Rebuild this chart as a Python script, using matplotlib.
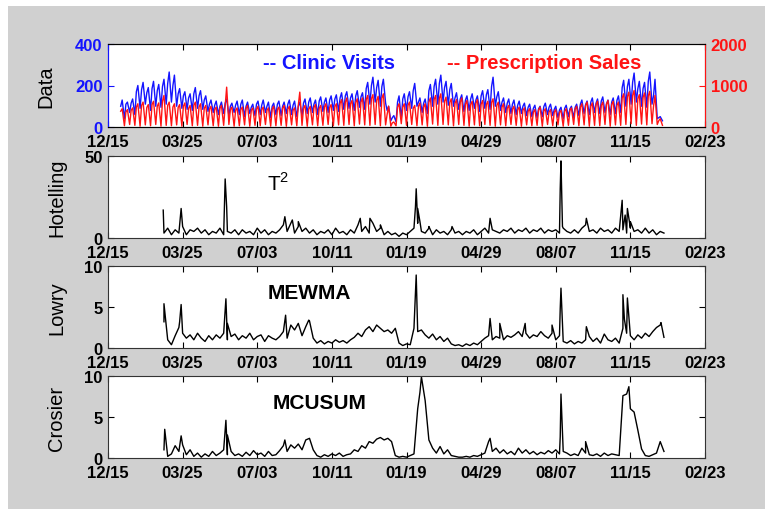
import numpy as np
import matplotlib
matplotlib.use("Agg")
import matplotlib.pyplot as plt
from matplotlib.patches import Rectangle

plt.rcParams['font.family'] = ['Liberation Sans', 'DejaVu Sans']

# x axis: days since 12/15, ticks every 100 days
tick_days = [0, 100, 200, 300, 400, 500, 600, 700, 800]
tick_labels = ['12/15', '03/25', '07/03', '10/11', '01/19', '04/29', '08/07', '11/15', '02/23']

# top panel: per week an early-week, a mid-week peak and a weekend low (first week starts day 16)
first_day = 16
visits_hi = [130, 120, 135,
             200, 215, 190, 220, 205,
             230, 265, 250, 185, 170, 160, 190, 175, 150,
             130, 125, 120, 135, 115, 125, 130, 120, 110, 125, 130, 120, 115, 125, 120, 130, 125, 120,
             135, 140, 130, 145, 140, 150, 155,
             165, 170, 160, 175, 165,
             215, 240, 225, 230,
             100, 55, 150,
             160, 170, 210, 140, 135,
             205, 230, 250, 220, 210,
             165, 155, 150, 160, 150,
             175, 180, 240, 170,
             140, 135, 130, 125,
             115, 110, 105, 100, 115, 110,
             100, 95, 105, 100, 110,
             130, 125, 140, 135, 145, 130, 140, 150,
             225, 230, 260, 220,
             215, 265, 230,
             50]
visits_mid = [100, 110, 115,
              170, 180, 165, 185, 175,
              195, 210, 200, 160, 150, 140, 160, 150, 130,
              110, 105, 100, 115, 100, 105, 110, 100, 95, 110, 105, 100, 100, 110, 100, 110, 105, 100,
              115, 120, 110, 125, 120, 130, 135,
              140, 150, 140, 150, 145,
              185, 200, 190, 195,
              80, 45, 120,
              135, 145, 175, 120, 115,
              175, 195, 210, 190, 180,
              140, 135, 130, 135, 130,
              150, 155, 195, 145,
              120, 115, 110, 105,
              100, 95, 90, 88, 98, 95,
              85, 82, 90, 88, 95,
              110, 108, 120, 115, 125, 112, 120, 128,
              190, 195, 215, 185,
              185, 220, 150,
              45]
visits_lo = [40, 70, 60,
             90, 110, 80, 100, 95,
             110, 120, 100, 90, 85, 80, 90, 85, 75,
             70, 60, 65, 55, 70, 60, 50, 65, 55, 60, 70, 45, 60, 55, 65, 60, 50, 55,
             65, 70, 60, 75, 70, 80, 75,
             85, 90, 80, 95, 85,
             110, 120, 100, 115,
             30, 25, 40,
             80, 90, 100, 70, 65,
             100, 110, 120, 105, 100,
             85, 75, 80, 90, 75,
             90, 85, 100, 80,
             70, 65, 60, 65,
             55, 50, 45, 50, 60, 55,
             45, 40, 50, 45, 55,
             65, 60, 70, 65, 70, 60, 65, 70,
             100, 110, 120, 100,
             95, 110, 40,
             30]
sales_hi = [440, 420, 460,
            560, 600, 540, 620, 580,
            760, 600, 560, 540, 580, 520, 600, 560, 520,
            500, 480, 520, 960, 480, 460, 480, 520, 460, 500, 480, 460, 500, 480, 520, 500, 460, 840,
            520, 500, 540, 520, 560, 540, 560,
            660, 700, 640, 680, 700,
            760, 780, 740, 800,
            500, 120, 560,
            560, 600, 520, 580, 560,
            700, 760, 800, 720, 680,
            660, 700, 640, 620, 660,
            640, 620, 680, 600,
            560, 520, 500, 480,
            460, 440, 420, 480, 440, 420,
            420, 400, 440, 460, 500,
            560, 600, 580, 620, 600, 640, 620, 600,
            800, 840, 880, 780,
            820, 860, 760,
            200]
sales_mid = [380, 360, 400,
             480, 520, 470, 540, 500,
             620, 520, 480, 470, 500, 450, 520, 480, 450,
             430, 420, 450, 500, 420, 400, 420, 450, 400, 430, 420, 400, 430, 420, 450, 430, 400, 520,
             450, 430, 470, 450, 480, 470, 490,
             570, 600, 560, 590, 600,
             660, 680, 640, 690,
             300, 100, 480,
             480, 520, 450, 500, 480,
             600, 660, 690, 620, 590,
             570, 600, 550, 540, 570,
             550, 540, 590, 520,
             480, 450, 430, 420,
             400, 380, 360, 410, 380, 360,
             360, 350, 380, 400, 430,
             480, 520, 500, 540, 520, 550, 540, 520,
             700, 730, 760, 680,
             710, 750, 500,
             150]
sales_lo = [30, 60, 40, 20, 50, 30, 60, 20, 40, 30, 50, 20, 60, 30, 40, 20, 50,
            30, 20, 40, 60, 20, 30, 50, 20, 40, 30, 60, 20, 30, 40, 20, 50, 30, 40,
            20, 50, 30, 40, 60, 30, 50, 40, 60, 30, 70, 50, 40, 60, 30, 50, 20, 30, 80,
            40, 60, 30, 50, 20, 70, 40, 60, 50, 30, 60, 40, 20, 50, 30, 60, 40, 20, 50,
            30, 60, 40, 20, 50, 30, 40, 20, 60, 30, 50, 20, 40, 60, 30, 50, 20, 40, 30, 60, 20, 50, 40,
            60, 80, 40, 70, 50, 80, 60, 40]

# statistics, sampled every 5 days from day 75, plus single-day spikes
stat_days = np.arange(75, 746, 5)
hotelling_base = [3, 6, 2, 5, 3, 7, 2, 5, 4, 6,
                  3, 5, 2, 4, 3, 6, 2, 4, 3, 5,
                  2, 5, 3, 4, 2, 6, 3, 5, 2, 4,
                  3, 5, 8, 4, 9, 3, 7, 4, 6, 3,
                  5, 2, 4, 3, 5, 2, 6, 3, 4, 2,
                  5, 3, 8, 4, 7, 3, 9, 4, 6, 2,
                  4, 2, 3, 1, 3, 2, 4, 6, 9, 4,
                  3, 6, 2, 5, 3, 4, 2, 5, 3, 4,
                  2, 4, 3, 5, 2, 4, 6, 3, 5, 4,
                  3, 5, 4, 6, 3, 5, 4, 6, 3, 5,
                  4, 6, 3, 5, 4, 5, 3, 6, 4, 3,
                  5, 3, 6, 8, 4, 5, 3, 6, 4, 5,
                  3, 6, 4, 5, 3, 6, 4, 5, 3, 6,
                  3, 5, 2, 4, 3]
hotelling_spikes = [(74, 17), (98, 18), (157, 36), (159, 19), (237, 13), (247, 11), (255, 10),
                    (338, 12), (351, 12), (365, 8), (412, 19), (413, 30), (415, 18), (418, 10),
                    (430, 7), (461, 7), (512, 12), (606, 30), (607, 47), (609, 7), (641, 12),
                    (689, 23), (693, 14), (696, 18), (700, 10)]

lowry_base = [3.2, 1.0, 0.4, 1.5, 2.5, 1.8, 1.2, 1.6, 1.0, 1.8,
              1.2, 0.8, 1.5, 1.0, 1.6, 1.2, 1.8, 1.0, 1.4, 1.7,
              1.0, 1.5, 1.2, 1.8, 1.0, 1.4, 1.6, 0.8, 1.5, 1.2,
              1.0, 1.4, 2.0, 1.2, 2.8, 2.2, 3.0, 1.5, 2.6, 3.3,
              1.2, 0.6, 0.9, 0.5, 0.8, 0.6, 1.0, 0.7, 0.9, 0.6,
              1.0, 1.3, 1.8, 1.4, 2.2, 2.6, 2.0, 2.8, 2.4, 2.0,
              2.2, 1.8, 2.4, 0.6, 0.3, 0.5, 0.4, 2.4, 2.0, 2.2,
              1.6, 1.2, 1.7, 1.0, 1.4, 0.8, 1.2, 0.5, 0.3, 0.4,
              0.2, 0.5, 0.3, 0.6, 0.4, 0.8, 1.2, 1.5, 1.0, 1.4,
              1.2, 1.0, 1.5, 1.3, 1.6, 2.0, 1.4, 1.8, 1.2, 1.6,
              1.4, 2.0, 1.5, 1.2, 1.8, 1.0, 1.5, 0.8, 0.6, 0.9,
              0.5, 0.8, 0.6, 1.0, 1.4, 0.8, 1.2, 0.6, 1.7, 1.0,
              0.8, 1.2, 0.6, 2.4, 1.8, 1.5, 1.0, 1.6, 1.2, 1.8,
              1.4, 2.0, 2.5, 2.8, 1.3]
lowry_spikes = [(75, 5.4), (96, 3.2), (98, 5.3), (158, 6.0), (160, 3.0), (238, 4.0), (269, 3.4),
                (413, 8.9), (414, 5.2), (512, 3.6), (525, 3.0), (559, 3.0), (595, 2.8),
                (606, 4.8), (607, 7.3), (641, 2.6), (690, 6.5), (692, 3.5), (696, 6.1),
                (698, 3.8), (741, 3.1)]

crosier_base = [1.0, 0.2, 0.5, 1.5, 0.8, 1.6, 0.4, 1.0, 0.2, 0.6,
                0.1, 0.5, 0.2, 0.8, 0.3, 0.6, 1.0, 0.4, 0.8, 0.3,
                0.5, 0.2, 0.7, 0.3, 0.9, 0.4, 0.6, 0.2, 0.8, 0.3,
                0.4, 0.9, 1.5, 0.8, 1.6, 1.2, 1.7, 1.0, 2.2, 2.4,
                1.0, 0.3, 0.1, 0.4, 0.2, 0.5, 0.3, 0.6, 0.2, 0.4,
                0.5, 1.0, 0.8, 1.5, 1.2, 2.0, 1.8, 2.3, 2.5, 2.2,
                2.4, 2.0, 0.3, 0.1, 0.2, 0.1, 0.3, 0.5, 6.0, 9.9,
                7.0, 2.2, 1.2, 0.6, 1.4, 0.5, 1.0, 0.3, 0.2, 0.1,
                0.1, 0.2, 0.1, 0.3, 0.2, 0.4, 0.6, 2.0, 0.8, 1.2,
                0.6, 1.0, 0.5, 0.8, 0.4, 1.2, 0.6, 1.0, 0.5, 0.8,
                0.4, 0.7, 0.5, 0.9, 0.6, 1.0, 0.5, 0.8, 0.6, 0.3,
                0.5, 0.3, 1.2, 0.6, 0.4, 0.3, 0.5, 0.2, 0.6, 0.3,
                0.5, 0.4, 0.3, 7.6, 7.8, 6.0, 5.6, 3.4, 1.1, 0.3,
                0.2, 0.4, 0.6, 2.0, 0.8]
crosier_spikes = [(76, 3.5), (98, 2.7), (158, 4.6), (160, 2.8), (237, 2.2), (418, 8.0),
                  (512, 2.4), (606, 2.6), (607, 7.8), (640, 2.0), (698, 8.7), (740, 2.0)]


def weekly(mid, hi, lo):
    wk = first_day + 7 * np.arange(len(hi))
    x = np.ravel(np.column_stack([wk + 1, wk + 3, wk + 6]))
    y = np.ravel(np.column_stack([mid, hi, lo]))
    return x, y


def merge(base, spikes):
    d = np.concatenate([stat_days, [s[0] for s in spikes]])
    v = np.concatenate([base, [s[1] for s in spikes]])
    order = np.argsort(d, kind='stable')
    return d[order], v[order]


blue = '#1414ff'
red = '#ff1414'
tick_font = dict(fontsize=12, fontweight='bold')

fig = plt.figure(figsize=(7.65, 5.1), dpi=100)
fig.patches.append(Rectangle((8 / 765, 0), 1, 503 / 510, transform=fig.transFigure,
                             facecolor='#d0d0d0', edgecolor='none', zorder=-10))

left, width = 108 / 765, 597 / 765
ax1 = fig.add_axes([left, 382 / 510, width, 83 / 510])
ax2 = fig.add_axes([left, 271 / 510, width, 82 / 510])
ax3 = fig.add_axes([left, 161 / 510, width, 82 / 510])
ax4 = fig.add_axes([left, 51 / 510, width, 82 / 510])

# top: clinic visits and prescription sales
axr = ax1.twinx()
xv, yv = weekly(visits_mid, visits_hi, visits_lo)
xs, ys = weekly(sales_mid, sales_hi, sales_lo)
ax1.plot(xv, yv, color=blue, lw=1.0)
axr.plot(xs, ys, color=red, lw=1.0)
ax1.set_ylim(0, 400)
ax1.set_yticks([0, 200, 400])
axr.set_ylim(0, 2000)
axr.set_yticks([0, 1000, 2000])
ax1.tick_params(axis='y', colors=blue, direction='in', length=4, pad=4, right=False)
axr.tick_params(axis='y', colors=red, direction='in', length=4, pad=4)
ax1.spines['left'].set_color(blue)
axr.spines['left'].set_color(blue)
axr.spines['right'].set_color(red)
for lab in ax1.get_yticklabels() + axr.get_yticklabels():
    lab.set_fontweight('bold')
    lab.set_fontsize(12)
ax1.set_ylabel('Data', fontsize=14.5)
ax1.yaxis.set_label_coords(-0.088, 0.5)
ax1.text(0.26, 0.78, '-- Clinic Visits', color=blue, fontsize=14.5, fontweight='bold',
         transform=ax1.transAxes, va='center')
ax1.text(0.568, 0.78, '-- Prescription Sales', color=red, fontsize=14.5, fontweight='bold',
         transform=ax1.transAxes, va='center')

panels = [
    (ax2, merge(hotelling_base, hotelling_spikes), 50, [0, 50], 'Hotelling', r'T$^{\mathregular{2}}$', 0.266, False),
    (ax3, merge(lowry_base, lowry_spikes), 10, [0, 5, 10], 'Lowry', 'MEWMA', 0.268, True),
    (ax4, merge(crosier_base, crosier_spikes), 10, [0, 5, 10], 'Crosier', 'MCUSUM', 0.276, True),
]
for ax, (d, v), top, yt, name, title, tx, bold in panels:
    ax.plot(d, v, color='black', lw=1.0)
    ax.set_ylim(0, top)
    ax.set_yticks(yt)
    ax.tick_params(axis='y', direction='in', length=4, pad=4, right=True)
    for lab in ax.get_yticklabels():
        lab.set_fontweight('bold')
        lab.set_fontsize(12)
    ax.set_ylabel(name, fontsize=14.5)
    ax.yaxis.set_label_coords(-0.07, 0.5)
    ax.text(tx, 0.68, title, fontsize=15, fontweight='bold' if bold else 'normal',
            transform=ax.transAxes, va='center', ha='left')

for ax in [ax1, ax2, ax3, ax4]:
    ax.set_xlim(0, 800)
    ax.set_xticks(tick_days)
    ax.set_xticklabels(tick_labels, **tick_font)
    ax.tick_params(axis='x', direction='in', length=4, pad=5, top=True)
    for s in ['top', 'bottom']:
        ax.spines[s].set_color('#333333')
    if ax is not ax1:
        for s in ['left', 'right']:
            ax.spines[s].set_color('#333333')

fig.savefig('out.png', dpi=100, facecolor='white')
